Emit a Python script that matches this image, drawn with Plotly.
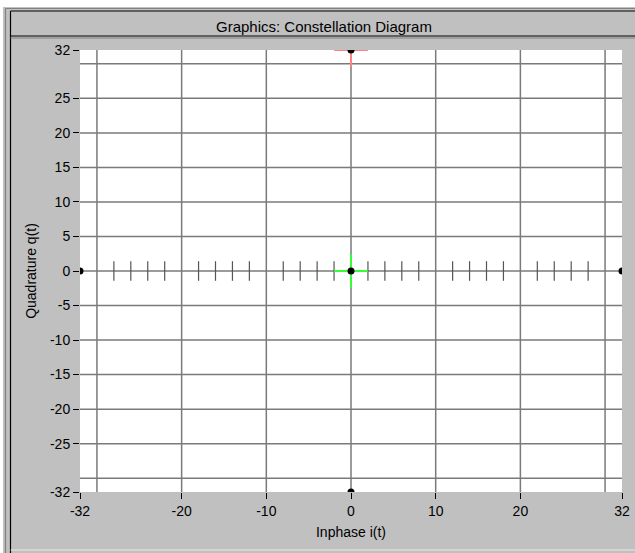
import plotly.graph_objects as go

# ---- data ----
point_i = [-32, 32, 0, 0, 0]
point_q = [0, 0, 0, 32, -32]
green_cross_i = [0]
green_cross_q = [0]
red_cross_i = [0]
red_cross_q = [32]
x_tick_vals = [-32, -20, -10, 0, 10, 20, 32]
x_tick_text = ["-32", "-20", "-10", "0", "10", "20", "32"]
y_tick_vals = [32, 25, 20, 15, 10, 5, 0, -5, -10, -15, -20, -25, -32]
y_tick_text = ["32", "25", "20", "15", "10", "5", "0", "-5", "-10", "-15", "-20", "-25", "-32"]
x_grid = [-30, -20, -10, 0, 10, 20, 30]
y_grid = [30, 25, 20, 15, 10, 5, 0, -5, -10, -15, -20, -25, -30]
minor_ticks = [v for v in range(-28, 30, 2) if v % 10 != 0]

W, H = 635, 553
ML, MT = 80, 50
PW = 622 - 80
PH = 492 - 50
MR = W - ML - PW
MB = H - MT - PH

def px(x):
    return (x - ML) / PW

def py(y):
    return (MT + PH - y) / PH

FONT = "Liberation Sans, Arial, sans-serif"
GRID = "#7a7a7a"

fig = go.Figure()

fig.add_trace(go.Scatter(
    x=minor_ticks, y=[0] * len(minor_ticks), mode="markers",
    marker=dict(symbol="line-ns", size=14, line=dict(color="#555555", width=1.2)),
    hoverinfo="skip", showlegend=False))

fig.add_trace(go.Scatter(
    x=green_cross_i, y=green_cross_q, mode="markers",
    marker=dict(symbol="cross-thin", size=24, line=dict(color="#33ff33", width=2)),
    hoverinfo="skip", showlegend=False))

fig.add_trace(go.Scatter(
    x=red_cross_i, y=red_cross_q, mode="markers",
    marker=dict(symbol="cross-thin", size=24, line=dict(color="#ff8080", width=2)),
    hoverinfo="skip", showlegend=False))

fig.add_trace(go.Scatter(
    x=point_i, y=point_q, mode="markers",
    marker=dict(symbol="circle", size=7, color="black"),
    hoverinfo="skip", showlegend=False))

shapes = []
shapes.append(dict(type="rect", xref="paper", yref="paper",
                   x0=px(0), x1=px(W), y0=py(0), y1=py(7),
                   fillcolor="white", line=dict(width=0), layer="below"))
shapes.append(dict(type="rect", xref="paper", yref="paper",
                   x0=px(0), x1=px(3), y0=py(0), y1=py(H),
                   fillcolor="white", line=dict(width=0), layer="below"))
for (x0, y0, x1, y1, c) in [
    (5.5, 8.5, 5.5, H, "#808080"),
    (5.5, 8.5, W, 8.5, "#808080"),
    (10.5, 11, 10.5, H, "#000000"),
    (10.5, 11, W, 11, "#000000"),
    (10.5, 36, W, 36, "#000000"),
    (10.5, 38, W, 38, "#808080"),
    (10.5, 550, W, 550, "#e8e8e8"),
]:
    shapes.append(dict(type="line", xref="paper", yref="paper",
                       x0=px(x0), x1=px(x1), y0=py(y0), y1=py(y1),
                       line=dict(color=c, width=1.2), layer="below"))
shapes.append(dict(type="rect", xref="paper", yref="paper",
                   x0=0, x1=1, y0=0, y1=1,
                   fillcolor="white", line=dict(width=0), layer="below"))

for gx in x_grid:
    shapes.append(dict(type="line", xref="x", yref="paper", x0=gx, x1=gx, y0=0, y1=1,
                       line=dict(color=GRID, width=1.5), layer="below"))
for gy in y_grid:
    shapes.append(dict(type="line", xref="paper", yref="y", x0=0, x1=1, y0=gy, y1=gy,
                       line=dict(color=GRID, width=1.5), layer="below"))

fig.update_layout(
    width=W, height=H, autosize=False,
    margin=dict(l=ML, r=MR, t=MT, b=MB, pad=0, autoexpand=False),
    paper_bgcolor="#c0c0c0",
    plot_bgcolor="white",
    font=dict(family=FONT, size=14, color="black"),
    shapes=shapes,
    showlegend=False,
    annotations=[
        dict(text="Graphics: Constellation Diagram", xref="paper", yref="paper",
             x=px(324), y=py(27), xanchor="center", yanchor="middle",
             showarrow=False, font=dict(family=FONT, size=15, color="black")),
    ],
    xaxis=dict(
        range=[-32, 32], tickvals=x_tick_vals, ticktext=x_tick_text,
        showgrid=False, zeroline=False, showline=False, automargin=False,
        ticks="outside", ticklen=6, tickwidth=1, tickcolor="black",
        fixedrange=True,
        title=dict(text="Inphase i(t)", standoff=9, font=dict(size=14)),
    ),
    yaxis=dict(
        range=[-32, 32], tickvals=y_tick_vals, ticktext=y_tick_text,
        showgrid=False, zeroline=False, showline=False, automargin=False,
        ticks="outside", ticklen=6, tickwidth=1, tickcolor="black",
        fixedrange=True,
        title=dict(text="Quadrature q(t)", standoff=10, font=dict(size=14)),
    ),
)

fig.write_html(
    "out.html",
    config={"displayModeBar": False},
    post_script="document.body.style.margin='0';document.body.style.overflow='hidden';",
)
